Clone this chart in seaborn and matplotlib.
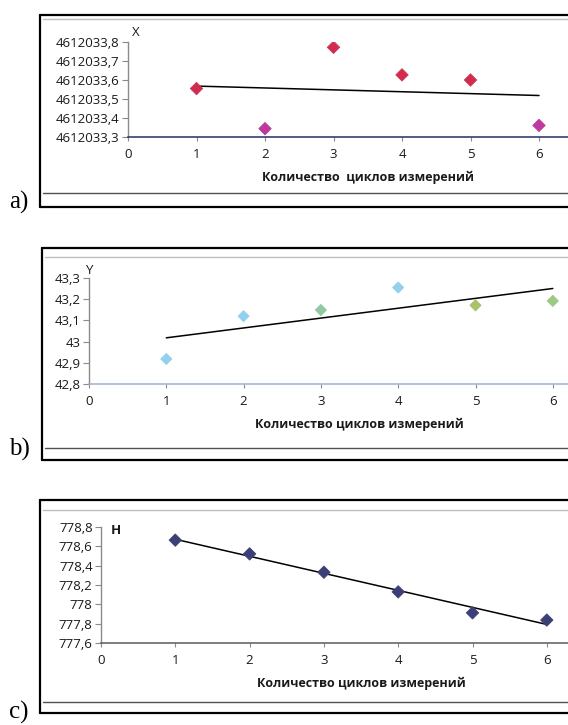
import matplotlib
matplotlib.use("Agg")
import matplotlib.pyplot as plt
import numpy as np
import pandas as pd
import seaborn as sns
from matplotlib.lines import Line2D
from matplotlib.ticker import FuncFormatter

cycles = [1, 2, 3, 4, 5, 6]

x_values = [4612033.555, 4612033.344, 4612033.772, 4612033.627, 4612033.600, 4612033.361]
y_values = [42.918, 43.120, 43.149, 43.255, 43.171, 43.192]
h_values = [778.664, 778.522, 778.332, 778.129, 777.912, 777.837]

x_ticks = [4612033.3, 4612033.4, 4612033.5, 4612033.6, 4612033.7, 4612033.8]
y_ticks = [42.8, 42.9, 43.0, 43.1, 43.2, 43.3]
h_ticks = [777.6, 777.8, 778.0, 778.2, 778.4, 778.6, 778.8]
cycle_ticks = [0, 1, 2, 3, 4, 5, 6]

x_colors = ["#d42a4e", "#c2369f", "#d42a4e", "#d42a4e", "#d42a4e", "#c2369f"]
y_colors = ["#8fd2f0", "#8fd2f0", "#8ec9a4", "#8fd2f0", "#a9c466", "#9ccb80"]
h_colors = ["#3b3f78"] * 6

xlabel_a = "Количество  циклов измерений"
xlabel_bc = "Количество циклов измерений"

W, H = 568, 725

sns.set_style("white")
plt.rcParams["font.family"] = ["Open Sans", "DejaVu Sans"]

fig = plt.figure(figsize=(W / 100, H / 100), dpi=100)
fig.patch.set_facecolor("white")


def fx(px):
    return px / W


def fy(py):
    return 1 - py / H


def tick_fmt(v, pos):
    s = f"{v:.1f}"
    if s.endswith(".0"):
        s = s[:-2]
    return s.replace(".", ",")


def frame(top, bottom, left, inner_top, inner_bottom):
    # black outer frame of the pasted excel chart, plus the grey inner edges
    fig.add_artist(Line2D([fx(left), 1.01], [fy(top), fy(top)], color="black", lw=1.6))
    fig.add_artist(Line2D([fx(left), 1.01], [fy(bottom), fy(bottom)], color="black", lw=1.6))
    fig.add_artist(Line2D([fx(left), fx(left)], [fy(top), fy(bottom)], color="black", lw=1.6))
    fig.add_artist(Line2D([fx(left + 3), 1.01], [fy(inner_top), fy(inner_top)], color="#bdbdbd", lw=1.0))
    fig.add_artist(Line2D([fx(left + 3), 1.01], [fy(inner_bottom), fy(inner_bottom)], color="#505050", lw=1.0))


def panel(values, colors, ticks, x0, unit, top, bottom, name, xlabel, xaxis_color,
          msize, name_off, tag, tag_y):
    ax = fig.add_axes([fx(x0), fy(bottom), 7 * unit / W, (bottom - top) / H])
    ax.set_facecolor("none")
    df = pd.DataFrame({"cycle": cycles, "value": values, "pt": [str(c) for c in cycles]})
    sns.scatterplot(data=df, x="cycle", y="value", hue="pt", palette=colors, marker="D",
                    s=msize, edgecolor=[sns.desaturate(c, 0.8) for c in colors],
                    linewidth=0.6, legend=False, ax=ax, zorder=3)
    sns.regplot(data=df, x="cycle", y="value", scatter=False, ci=None, truncate=True,
                line_kws={"color": "black", "lw": 1.1}, ax=ax)
    ax.set_xlim(0, 7)
    ax.set_ylim(ticks[0], ticks[-1])
    ax.set_yticks(ticks)
    ax.set_xticks(cycle_ticks)
    ax.yaxis.set_major_formatter(FuncFormatter(tick_fmt))
    ax.set_ylabel("")
    ax.set_xlabel(xlabel, fontsize=9, fontweight="bold", color="#1a1a1a", labelpad=7)
    for s in ["top", "right"]:
        ax.spines[s].set_visible(False)
    ax.spines["left"].set_color("#8a8a8a")
    ax.spines["left"].set_linewidth(1.0)
    ax.spines["bottom"].set_color(xaxis_color)
    ax.spines["bottom"].set_linewidth(1.1)
    ax.tick_params(axis="y", direction="out", length=4, width=0.8, color="#8a8a8a",
                   labelsize=9.5, labelcolor="#1a1a1a", pad=2, left=True)
    ax.tick_params(axis="x", direction="out", length=3, width=0.8, color="#8a8a8a",
                   labelsize=9.5, labelcolor="#1a1a1a", pad=5, bottom=True)
    ax.grid(False)
    ax.annotate(name, xy=(0, 1), xycoords="axes fraction", xytext=name_off,
                textcoords="offset pixels", fontsize=9.5, color="#1a1a1a",
                fontweight="bold" if name == "H" else "normal", va="center")
    fig.text(fx(9), fy(tag_y), tag, fontsize=18, family="Liberation Serif",
             va="center", ha="left", color="black")
    return ax


frame(15, 207, 40, 19, 193)
frame(248, 460, 42, 257, 448)
frame(500, 713, 40, 510, 702)

panel(x_values, x_colors, x_ticks, 128, 68.5, 42, 137, "X", xlabel_a, "#24305e",
      40, (4, 9), "a)", 202)
panel(y_values, y_colors, y_ticks, 89, 77.3, 278, 384, "Y", xlabel_bc, "#9fb0d2",
      32, (-4, 7), "b)", 449)
panel(h_values, h_colors, h_ticks, 101, 74.3, 527, 643, "H", xlabel_bc, "#5a5a5a",
      40, (10, -3), "c)", 712)

fig.savefig("out.png", dpi=100, facecolor="white")
